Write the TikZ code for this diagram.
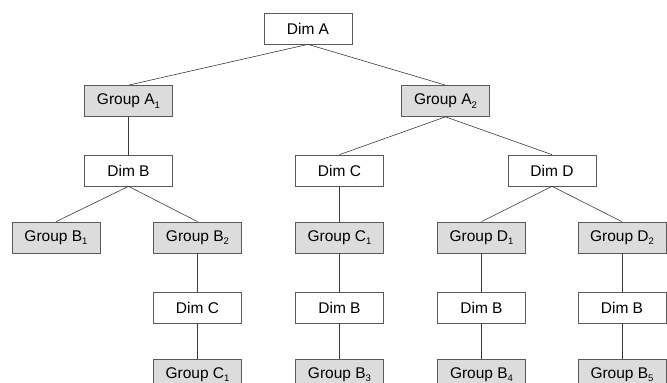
\documentclass[tikz,border=0pt]{standalone}
\usepackage{fontspec}
\setmainfont{Liberation Sans}
\usetikzlibrary{positioning}

\definecolor{boxline}{HTML}{5A5A5A}
\definecolor{boxfill}{HTML}{DCDCDC}
\definecolor{edgeline}{HTML}{3A3A3A}

\newcommand{\idx}[1]{\raisebox{-0.4ex}{\fontsize{9.5}{9.5}\selectfont #1}}

\tikzset{
  dimbox/.style={draw=boxline, fill=white, line width=0.7pt, inner sep=0pt,
    minimum width=88pt, minimum height=31pt, font=\fontsize{15.5}{17}\selectfont},
  grpbox/.style={dimbox, fill=boxfill},
  edge/.style={draw=edgeline, line width=0.6pt}
}

\begin{document}
\begin{tikzpicture}[x=1pt,y=-1pt]
        \useasboundingbox (0,0) rectangle (667,383);
        % dimension nodes
        \foreach \n/\x/\y/\t in {dimA/308/28.5/Dim A, dimB1/128.5/170.5/Dim B,
                dimC2/339.5/170.5/Dim C, dimD/552/170.5/Dim D,
                dimC1/197.5/307.5/Dim C, dimB2/339.5/307.5/Dim B,
                dimB3/481.5/307.5/Dim B, dimB4/622/307.5/Dim B} {
                \node[dimbox] (\n) at (\x,\y) {\t};
            }
        % group nodes
        \foreach \n/\x/\y/\t in {grpA1/128.5/101/A\idx{1}, grpA2/445.5/101/A\idx{2},
                grpB1/56/237.5/B\idx{1}, grpB2/197.5/237.5/B\idx{2},
                grpC1/339.5/237.5/C\idx{1}, grpD1/481.5/237.5/D\idx{1},
                grpD2/622/237.5/D\idx{2}, grpC1b/197.5/374.5/C\idx{1},
                grpB3/339.5/374.5/B\idx{3}, grpB4/481.5/374.5/B\idx{4},
                grpB5/622/374.5/B\idx{5}} {
                \node[grpbox] (\n) at (\x,\y) {Group \t};
            }
        % connectors
        \foreach \a/\b in {dimA/grpA1, dimA/grpA2, grpA1/dimB1, dimB1/grpB1,
                dimB1/grpB2, grpB2/dimC1, dimC1/grpC1b, grpA2/dimC2, grpA2/dimD,
                dimC2/grpC1, grpC1/dimB2, dimB2/grpB3, dimD/grpD1, dimD/grpD2,
                grpD1/dimB3, dimB3/grpB4, grpD2/dimB4, dimB4/grpB5} {
                \draw[edge] (\a.south) -- (\b.north);
            }
    \end{tikzpicture}
\end{document}
